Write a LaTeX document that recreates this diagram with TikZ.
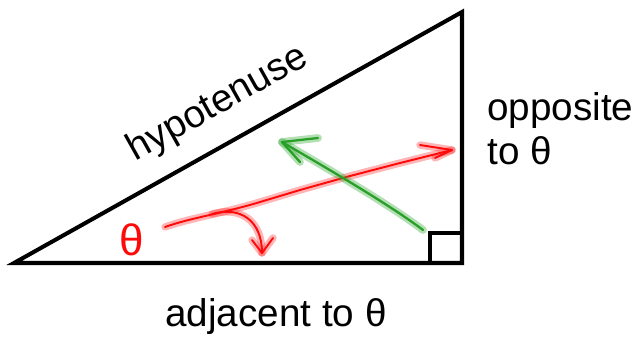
\documentclass[tikz,border=0pt]{standalone}
\usepackage{fontspec}
\setmainfont{Liberation Sans}
\usetikzlibrary{positioning}
\definecolor{penred}{RGB}{255,10,10}
\definecolor{pengreen}{RGB}{40,160,40}
\tikzset{
  side/.style={line width=2.3pt,line join=miter,color=black},
  lbl/.style={font=\fontsize{22}{25}\selectfont,inner sep=0pt},
  redpen/.style={draw=penred,line width=1.1pt,line cap=round,line join=round,
    preaction={draw=penred,opacity=0.3,line width=4.2pt,line cap=round,line join=round}},
  greenpen/.style={draw=pengreen,line width=1.3pt,line cap=round,line join=round,
    preaction={draw=pengreen,opacity=0.35,line width=4.4pt,line cap=round,line join=round}}
}
\begin{document}
\begin{tikzpicture}[x=0.02cm,y=-0.02cm]
  \useasboundingbox (0,0) rectangle (641,336);
  % triangle
  \coordinate (A) at (14,263);
  \coordinate (B) at (462,263);
  \coordinate (C) at (462,12);
  \draw[side] (A) -- (B) -- (C) -- cycle;
  \draw[side] (430,263) |- (462,233);

  % labels
  \node[lbl,rotate=29.3] (hyp) at (218,104) {hypotenuse};
  \node[lbl,anchor=base west,align=left] (opp) at (487,164) {opposite\\to θ};
  \node[lbl,anchor=base] (adj) at (276,326) {adjacent to θ};
  \node[lbl,text=penred,font=\fontsize{25}{28}\selectfont] (theta) at (132,240) {θ};

  % red arrow to the opposite side
  \coordinate (rs) at (165,227);
  \coordinate (rt) at (452,150);
  \draw[redpen] (rs) .. controls (190,218) and (220,214) .. (260,202)
    -- (300,190) -- (350,176) -- (400,163) -- (rt);
  \draw[redpen] (420,145) -- (rt) -- (435,158);

  % red arrow turning down to the adjacent side
  \coordinate (ds) at (212,214);
  \coordinate (dt) at (262,253);
  \draw[redpen] (ds) .. controls (240,206) and (262,220) .. (dt);
  \draw[redpen] (252,240) -- (dt) -- (273,238);

  % green arrow
  \coordinate (gs) at (423,230);
  \coordinate (gt) at (282,142);
  \draw[greenpen] (gs) .. controls (390,205) and (330,170) .. (gt);
  \draw[greenpen] (318,138) -- (gt) -- (300,162);
\end{tikzpicture}
\end{document}
